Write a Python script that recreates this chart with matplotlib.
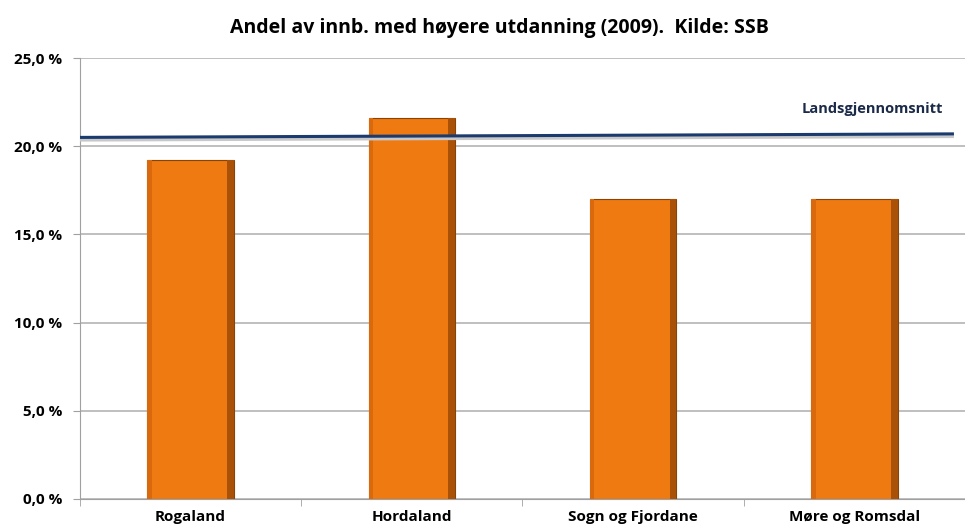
import numpy as np
import matplotlib.pyplot as plt
from matplotlib.ticker import FuncFormatter

# data
fylker = ['Rogaland', 'Hordaland', 'Sogn og Fjordane', 'Møre og Romsdal']
andel = [19.2, 21.6, 17.0, 17.0]
snitt_x = [-0.5, 3.45]
snitt = [20.5, 20.7]
y_ticks = [0, 5, 10, 15, 20, 25]

plt.rcParams['font.family'] = ['Open Sans', 'DejaVu Sans']
plt.rcParams['font.weight'] = 'bold'

fig = plt.figure(figsize=(9.65, 5.3), dpi=100)
ax = fig.add_axes([0.0829, 0.0585, 0.9171, 0.832])

x = np.arange(len(fylker))

# grid
ax.set_axisbelow(True)
ax.yaxis.grid(True, color='#b4b4b4', linewidth=1.2)

# bars with a simple bevel look
ax.bar(x, andel, width=0.39, color='#F07A12', edgecolor='#8a4306', linewidth=0.8, zorder=2)
ax.bar(x - 0.185, andel, width=0.02, color='#d9690c', linewidth=0, zorder=3)
ax.bar(x + 0.18, andel, width=0.03, color='#a95207', linewidth=0, zorder=3)

# national average line with shadow
ax.plot(snitt_x, np.array(snitt) - 0.12, color='#c8c8c8', linewidth=3, zorder=3, solid_capstyle='butt')
ax.plot(snitt_x, snitt, color='#1b3a6e', linewidth=2.2, zorder=4, solid_capstyle='butt')
ax.text(3.4, 22.1, 'Landsgjennomsnitt', ha='right', va='center', fontsize=10.5,
        color='#1b2a48', fontweight='bold')

ax.set_xlim(-0.5, 3.45)
ax.set_ylim(0, 25)
ax.set_yticks(y_ticks)
ax.yaxis.set_major_formatter(FuncFormatter(lambda v, p: f'{v:.1f} %'.replace('.', ',')))
ax.set_xticks(x)
ax.set_xticklabels(fylker)
ax.set_xticks(np.arange(-0.5, 3.6, 1), minor=True)
ax.tick_params(axis='x', which='major', length=0, pad=8, labelsize=11)
ax.tick_params(axis='x', which='minor', length=5, color='#a0a0a0')
ax.tick_params(axis='y', length=5, color='#a0a0a0', labelsize=11, pad=8)

for s in ['top', 'right']:
    ax.spines[s].set_visible(False)
ax.spines['left'].set_color('#a0a0a0')
ax.spines['bottom'].set_color('#a0a0a0')

fig.text(0.518, 0.947, 'Andel av innb. med høyere utdanning (2009).  Kilde: SSB',
         ha='center', va='center', fontsize=14, fontweight='bold')

fig.savefig('out.png', dpi=100)
